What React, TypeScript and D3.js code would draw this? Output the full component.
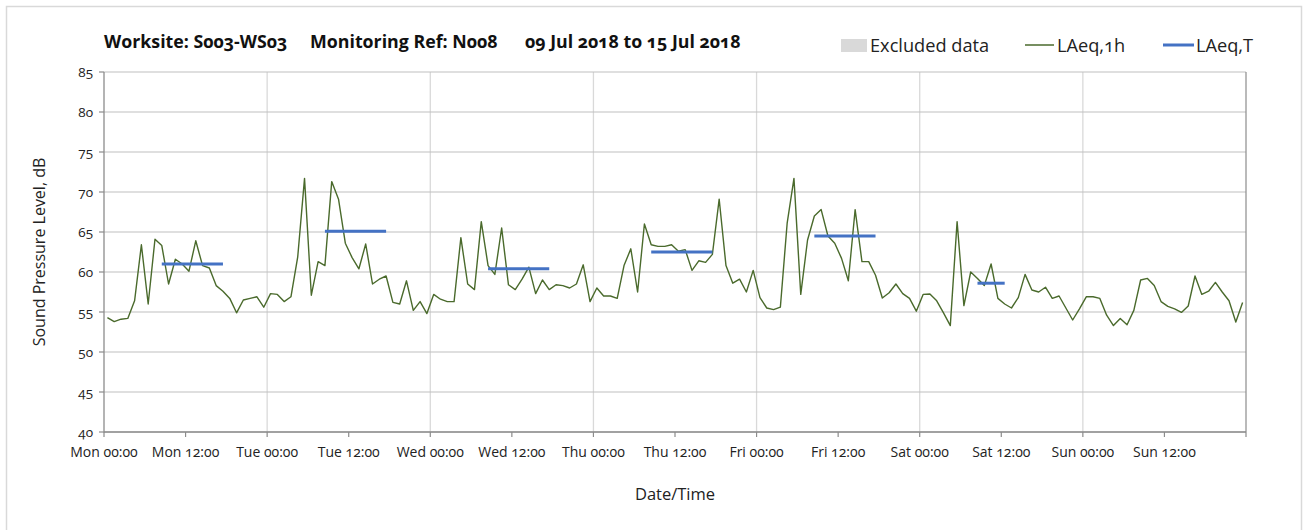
import React from "react";
import * as d3 from "d3";

const laeq1h: number[] = [
  // Mon
  54.3, 53.8, 54.1, 54.2, 56.4, 63.4, 56.0, 64.1, 63.3, 58.5, 61.6, 61.0, 60.1, 63.9, 60.8, 60.5, 58.3, 57.6, 56.7, 54.9, 56.5, 56.7, 56.9, 55.6,
  // Tue
  57.3, 57.2, 56.3, 56.9, 61.9, 71.7, 57.1, 61.3, 60.8, 71.3, 69.1, 63.6, 61.8, 60.4, 63.5, 58.5, 59.1, 59.5, 56.2, 56.0, 58.9, 55.2, 56.3, 54.8,
  // Wed
  57.2, 56.6, 56.3, 56.3, 64.3, 58.5, 57.8, 66.3, 60.8, 59.7, 65.5, 58.4, 57.8, 59.1, 60.6, 57.3, 59.0, 57.8, 58.4, 58.3, 58.0, 58.5, 60.9, 56.3,
  // Thu
  58.0, 57.0, 57.0, 56.7, 60.8, 62.9, 57.5, 66.0, 63.4, 63.2, 63.2, 63.4, 62.6, 62.8, 60.2, 61.4, 61.2, 62.2, 69.1, 60.8, 58.6, 59.1, 57.5, 60.2,
  // Fri
  56.8, 55.5, 55.3, 55.6, 66.1, 71.7, 57.2, 64.0, 67.0, 67.8, 64.5, 63.6, 61.7, 58.9, 67.8, 61.3, 61.3, 59.6, 56.75, 57.4, 58.5, 57.3, 56.7, 55.1,
  // Sat
  57.2, 57.25, 56.4, 54.9, 53.3, 66.3, 55.8, 60.0, 59.2, 58.3, 61.0, 56.7, 56.0, 55.5, 56.8, 59.7, 57.75, 57.5, 58.1, 56.7, 57.0, 55.5, 54.0, 55.4,
  // Sun
  56.9, 56.9, 56.7, 54.6, 53.3, 54.2, 53.4, 55.2, 59.0, 59.2, 58.3, 56.3, 55.7, 55.4, 54.95, 55.75, 59.5, 57.2, 57.6, 58.7, 57.5, 56.4, 53.75, 56.2,
];

const laeqTStart: number[] = [8, 32, 56, 80, 104, 128];
const laeqTEnd: number[] = [17, 41, 65, 89, 113, 132];
const laeqTValue: number[] = [61.0, 65.1, 60.4, 62.5, 64.5, 58.6];

const xTickLabels: string[] = [
  "Mon 00:00", "Mon 12:00", "Tue 00:00", "Tue 12:00", "Wed 00:00", "Wed 12:00", "Thu 00:00",
  "Thu 12:00", "Fri 00:00", "Fri 12:00", "Sat 00:00", "Sat 12:00", "Sun 00:00", "Sun 12:00",
];
const yTicks: number[] = [40, 45, 50, 55, 60, 65, 70, 75, 80, 85];

const FONT = "'Open Sans', 'Noto Sans', sans-serif";

export default function App() {
  const W = 1311;
  const H = 530;
  const left = 104;
  const right = 1246;
  const top = 72;
  const bottom = 432;

  const x = d3.scaleLinear().domain([0, 168]).range([left, right]);
  const y = d3.scaleLinear().domain([40, 85]).range([bottom, top]);

  const line = d3
    .line<number>()
    .x((_, i) => x(i + 0.5))
    .y((d) => y(d));

  const dayTicks = d3.range(0, 169, 24);
  const halfTicks = d3.range(0, 169, 12);

  const numStyle: React.CSSProperties = { fontVariantNumeric: "oldstyle-nums" };

  return (
    <svg
      width={W}
      height={H}
      style={{ position: "absolute", left: 0, top: 0, background: "#fff" }}
      fontFamily={FONT}
    >
      <rect x={6.5} y={6.5} width={1295} height={560} fill="#fff" stroke="#d9d9d9" strokeWidth={1.5} />

      {/* vertical day gridlines */}
      {dayTicks.slice(1, -1).map((t) => (
        <line key={"vg" + t} x1={x(t)} x2={x(t)} y1={top} y2={bottom} stroke="#d9d9d9" strokeWidth={1.3} />
      ))}
      {/* horizontal gridlines */}
      {yTicks.map((t) => (
        <line key={"hg" + t} x1={left} x2={right} y1={y(t)} y2={y(t)} stroke="#bfbfbf" strokeWidth={1.2} />
      ))}

      {/* plot border/axes */}
      <line x1={right} x2={right} y1={top} y2={bottom} stroke="#8c8c8c" strokeWidth={1.2} />
      <line x1={left} x2={left} y1={top} y2={bottom + 0.5} stroke="#8c8c8c" strokeWidth={1.3} />
      <line x1={left} x2={right} y1={bottom} y2={bottom} stroke="#8c8c8c" strokeWidth={1.3} />

      {/* y ticks */}
      {yTicks.map((t) => (
        <g key={"yt" + t}>
          <line x1={left - 5} x2={left} y1={y(t)} y2={y(t)} stroke="#8c8c8c" strokeWidth={1.2} />
          <text x={left - 11} y={y(t) + 4.5} fontSize={13.5} textAnchor="end" fill="#222" style={numStyle}>
            {t}
          </text>
        </g>
      ))}

      {/* x ticks */}
      {halfTicks.map((t, i) => (
        <g key={"xt" + t}>
          <line x1={x(t)} x2={x(t)} y1={bottom} y2={bottom + 5} stroke="#8c8c8c" strokeWidth={1.2} />
          {i < xTickLabels.length && (
            <text x={x(t)} y={bottom + 25} fontSize={14} textAnchor="middle" fill="#222" style={numStyle}>
              {xTickLabels[i]}
            </text>
          )}
        </g>
      ))}

      {/* LAeq,1h line */}
      <path d={line(laeq1h) || ""} fill="none" stroke="#4a6a2c" strokeWidth={1.4} strokeLinejoin="round" />

      {/* LAeq,T segments */}
      {laeqTValue.map((v, i) => (
        <line
          key={"lt" + i}
          x1={x(laeqTStart[i] + 0.5)}
          x2={x(laeqTEnd[i] + 0.5)}
          y1={y(v)}
          y2={y(v)}
          stroke="#4472c4"
          strokeWidth={3}
        />
      ))}

      {/* title */}
      <g fontSize={17.8} fontWeight="bold" fill="#111" style={numStyle}>
        <text x={104} y={48}>Worksite: S003-WS03</text>
        <text x={310} y={48}>Monitoring Ref: N008</text>
        <text x={525} y={48}>09 Jul 2018 to 15 Jul 2018</text>
      </g>

      {/* legend */}
      <rect x={841} y={39} width={26} height={13} fill="#d9d9d9" />
      <text x={870} y={52} fontSize={18.2} fill="#222">Excluded data</text>
      <line x1={1025} x2={1054} y1={45} y2={45} stroke="#4a6a2c" strokeWidth={1.5} />
      <text x={1057} y={52} fontSize={18.2} fill="#222" style={numStyle}>LAeq,1h</text>
      <line x1={1163} x2={1194} y1={45} y2={45} stroke="#4472c4" strokeWidth={3} />
      <text x={1196} y={52} fontSize={18.2} fill="#222">LAeq,T</text>

      {/* axis titles */}
      <text
        transform={`translate(45, ${(top + bottom) / 2}) rotate(-90)`}
        textAnchor="middle"
        fontSize={16}
        fill="#222"
      >
        Sound Pressure Level, dB
      </text>
      <text x={675} y={500} textAnchor="middle" fontSize={16.5} fill="#222">
        Date/Time
      </text>
    </svg>
  );
}
